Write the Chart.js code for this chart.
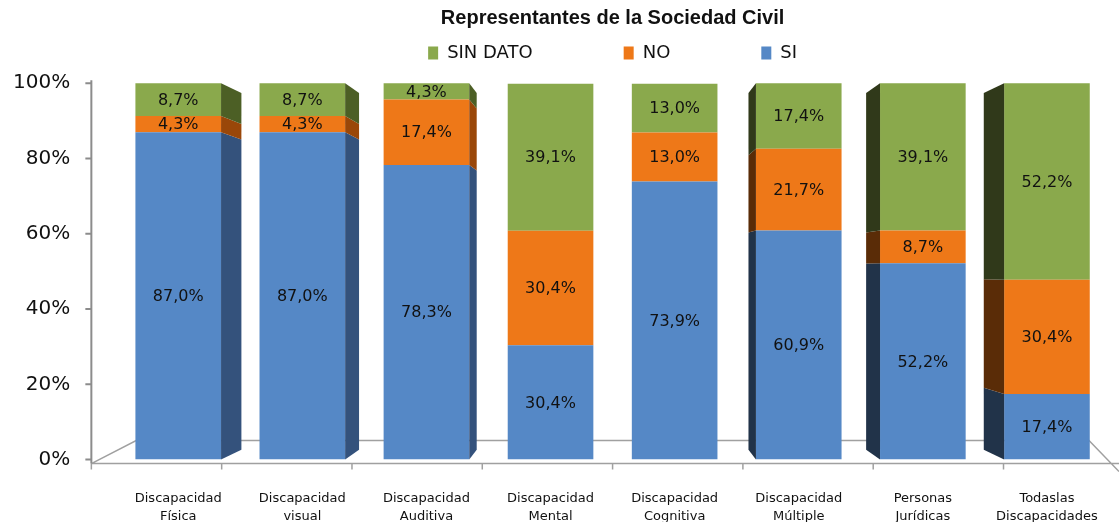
<!DOCTYPE html>
<html>
<head>
<meta charset="utf-8">
<script src="https://cdn.jsdelivr.net/npm/chart.js@4.4.0/dist/chart.umd.min.js"></script>
<style>
  html, body { margin: 0; padding: 0; background: #fff; }
  #wrap { width: 1119px; height: 522px; }
</style>
</head>
<body>
<div id="wrap"><canvas id="chart"></canvas></div>
<script>
// Data (percent)
const categories = [
    ['Discapacidad', 'Física'], ['Discapacidad', 'visual'], ['Discapacidad', 'Auditiva'],
    ['Discapacidad', 'Mental'], ['Discapacidad', 'Cognitiva'], ['Discapacidad', 'Múltiple'],
    ['Personas', 'Jurídicas'], ['Todaslas', 'Discapacidades']
];
const siValues = [87.0, 87.0, 78.3, 30.4, 73.9, 60.9, 52.2, 17.4];
const noValues = [4.3, 4.3, 17.4, 30.4, 13.0, 21.7, 8.7, 30.4];
const sinDatoValues = [8.7, 8.7, 4.3, 39.1, 13.0, 17.4, 39.1, 52.2];
const yTicks = [0, 20, 40, 60, 80, 100];

// Colours: front face, side face seen on the right, side face seen on the left
const frontColors = ['#5588C6', '#EE7818', '#8AA94C'];
const sideRightColors = ['#34527C', '#9A4709', '#4C5F25'];
const sideLeftColors = ['#213349', '#5A2C07', '#30391A'];
const DEPTH = 0.052;

// Fake 3D side faces, converging to the middle of the plot
const sidePlugin = {
    id: 'sides',
    afterDatasetsDraw(chart) {
        const { ctx, chartArea: a, scales: { y } } = chart;
        const vx = (a.left + a.right) / 2;
        const vy = (y.getPixelForValue(100) + a.bottom) / 2;
        ctx.save();
        chart.data.datasets.forEach((ds, di) => {
            chart.getDatasetMeta(di).data.forEach(bar => {
                const top = Math.min(bar.y, bar.base);
                const bottom = Math.max(bar.y, bar.base);
                const left = bar.x - bar.width / 2;
                const right = bar.x + bar.width / 2;
                let edge, color;
                if (right < vx - 40) { edge = right; color = sideRightColors[di]; }
                else if (left > vx + 40) { edge = left; color = sideLeftColors[di]; }
                else return;
                const outer = edge + DEPTH * (vx - edge);
                ctx.fillStyle = color;
                ctx.beginPath();
                ctx.moveTo(edge, top);
                ctx.lineTo(outer, top + DEPTH * (vy - top));
                ctx.lineTo(outer, bottom + DEPTH * (vy - bottom));
                ctx.lineTo(edge, bottom);
                ctx.closePath();
                ctx.fill();
            });
        });
        ctx.restore();
    }
};

// Value labels in the middle of each segment
const labelPlugin = {
    id: 'segLabels',
    afterDatasetsDraw(chart) {
        const ctx = chart.ctx;
        ctx.save();
        ctx.font = '16px "DejaVu Sans"';
        ctx.fillStyle = '#111';
        ctx.textAlign = 'center';
        ctx.textBaseline = 'middle';
        chart.data.datasets.forEach((ds, di) => {
            chart.getDatasetMeta(di).data.forEach((bar, i) => {
                const txt = ds.data[i].toFixed(1).replace('.', ',') + '%';
                ctx.fillText(txt, bar.x, (bar.y + bar.base) / 2 + 1);
            });
        });
        ctx.restore();
    }
};

// Floor, y axis line and tick marks in the same perspective
const floorPlugin = {
    id: 'floor',
    beforeDatasetsDraw(chart) {
        const { ctx, chartArea: a, scales: { x, y } } = chart;
        const vx = (a.left + a.right) / 2;
        const front = p => vx + (p - vx) * 1.05;
        const axisX = front(a.left);
        const frontY = a.bottom + 4;
        const backY = a.bottom - 19;
        const step = x.getPixelForValue(1) - x.getPixelForValue(0);
        ctx.save();
        ctx.strokeStyle = '#a0a0a0';
        ctx.lineWidth = 1.5;
        ctx.beginPath();
        ctx.moveTo(axisX, frontY);
        ctx.lineTo(chart.width, frontY);
        ctx.moveTo(axisX, frontY);
        ctx.lineTo(a.left + 20, backY);
        ctx.lineTo(a.right - 20, backY);
        ctx.lineTo(chart.width, frontY + 8);
        for (let i = 0; i < categories.length; i++) {
            const bx = front(x.getPixelForValue(i) - step / 2);
            ctx.moveTo(bx, frontY);
            ctx.lineTo(bx, frontY + 6);
        }
        ctx.stroke();
        ctx.strokeStyle = '#8c8c8c';
        ctx.lineWidth = 2;
        ctx.beginPath();
        ctx.moveTo(axisX, y.getPixelForValue(100) - 3);
        ctx.lineTo(axisX, frontY);
        yTicks.forEach(v => {
            const py = y.getPixelForValue(v);
            ctx.moveTo(axisX - 6, py);
            ctx.lineTo(axisX, py);
        });
        ctx.stroke();
        ctx.restore();
    }
};

function createChart() {
    const ctx = document.getElementById('chart').getContext('2d');
    return new Chart(ctx, {
        type: 'bar',
        data: {
            labels: categories,
            datasets: [
                { label: 'SI', data: siValues, backgroundColor: frontColors[0] },
                { label: 'NO', data: noValues, backgroundColor: frontColors[1] },
                { label: 'SIN DATO', data: sinDatoValues, backgroundColor: frontColors[2] }
            ]
        },
        options: {
            responsive: true,
            maintainAspectRatio: false,
            animation: false,
            datasets: { bar: { barPercentage: 0.69, categoryPercentage: 1 } },
            layout: { padding: { left: -33, right: 10, top: 0, bottom: -34 } },
            scales: {
                x: {
                    stacked: true,
                    grid: { display: false, drawTicks: false },
                    border: { display: false },
                    // the labels fit, don't let them shrink the plot
                    afterFit: s => { s.paddingLeft = 0; s.paddingRight = 0; },
                    ticks: {
                        padding: 30,
                        maxRotation: 0,
                        autoSkip: false,
                        color: '#111',
                        font: { family: 'DejaVu Sans', size: 13, lineHeight: 1.4 }
                    }
                },
                y: {
                    stacked: true,
                    min: 0,
                    max: 103,
                    grid: { display: false, drawTicks: false },
                    border: { display: false },
                    afterBuildTicks: scale => { scale.ticks = yTicks.map(v => ({ value: v })); },
                    ticks: {
                        padding: 46,
                        color: '#111',
                        font: { family: 'DejaVu Sans', size: 20 },
                        callback: v => v + '%'
                    }
                }
            },
            plugins: {
                tooltip: { enabled: false },
                title: {
                    display: true,
                    text: 'Representantes de la Sociedad Civil',
                    color: '#111',
                    fullSize: false,
                    font: { family: 'Liberation Sans', size: 20, weight: 'bold' },
                    padding: { top: 6, bottom: 4 }
                },
                legend: {
                    reverse: true,
                    fullSize: false,
                    labels: {
                        color: '#111',
                        boxWidth: 10,
                        boxHeight: 13,
                        padding: 10,
                        font: { family: 'DejaVu Sans', size: 18 },
                        generateLabels: chart => {
                            const items = Chart.defaults.plugins.legend.labels.generateLabels(chart);
                            // wide gaps between entries as in the reference
                            items.forEach(it => { if (it.text !== 'SI') it.text = it.text + '\u2002'.repeat(9); });
                            return items;
                        }
                    }
                }
            }
        },
        plugins: [floorPlugin, sidePlugin, labelPlugin]
    });
}

document.addEventListener('DOMContentLoaded', createChart);
</script>
</body>
</html>
